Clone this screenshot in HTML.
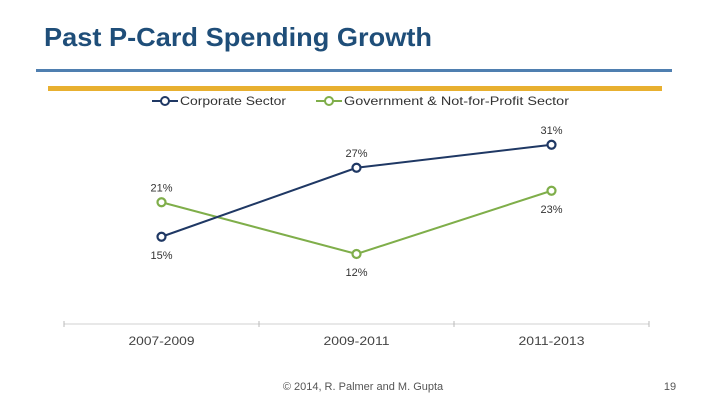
<!DOCTYPE html>
<html><head><meta charset="utf-8"><style>
html,body{margin:0;padding:0;background:#fff;}
svg{display:block;font-family:"Liberation Sans",sans-serif;}
</style></head><body>
<svg width="720" height="405" viewBox="0 0 720 405">
<text x="44" y="46" font-size="26" font-weight="bold" fill="#1f4e79" textLength="388" lengthAdjust="spacingAndGlyphs">Past P-Card Spending Growth</text>
<rect x="36" y="69" width="636" height="3" fill="#4f7fb0"/>
<rect x="48" y="86" width="614" height="5" fill="#e8b030"/>
<g id="legend">
  <g>
    <line x1="152" y1="101" x2="178" y2="101" stroke="#1f3864" stroke-width="2"/>
    <circle cx="165" cy="101" r="4" fill="#fff" stroke="#1f3864" stroke-width="2"/>
    <text x="180" y="105" font-size="12" fill="#333" textLength="106" lengthAdjust="spacingAndGlyphs">Corporate Sector</text>
  </g>
  <g>
    <line x1="316" y1="101" x2="342" y2="101" stroke="#7fae4a" stroke-width="2"/>
    <circle cx="329" cy="101" r="4" fill="#fff" stroke="#7fae4a" stroke-width="2"/>
    <text x="344" y="105" font-size="12" fill="#333" textLength="225" lengthAdjust="spacingAndGlyphs">Government &amp; Not-for-Profit Sector</text>
  </g>
</g>
<g id="chart"></g>
<text x="363" y="390" font-size="11" fill="#555" text-anchor="middle">© 2014, R. Palmer and M. Gupta</text>
<text x="670" y="390" font-size="11" fill="#555" text-anchor="middle">19</text>
</svg>
<script>
const categories = ["2007-2009","2009-2011","2011-2013"];
const corporate = [15, 27, 31];
const government = [21, 12, 23];
const seriesNames = ["Corporate Sector","Government & Not-for-Profit Sector"];

const NS="http://www.w3.org/2000/svg";
const g=document.getElementById('chart');
const left=64, right=649, base=323, pxPer=5.75;
const band=(right-left)/categories.length;
function xS(i){return left+band*(i+0.5);}
function yS(v){return base-v*pxPer;}
function mk(t,a){const e=document.createElementNS(NS,t);for(const k in a)e.setAttribute(k,a[k]);g.appendChild(e);return e;}

const ax=mk('line',{x1:left,y1:324,x2:right,y2:324,stroke:'#d0d0d0','stroke-width':1});


for(let i=0;i<=categories.length;i++){
  const t=mk('line',{x1:left+band*i,y1:321,x2:left+band*i,y2:327,stroke:'#bbb','stroke-width':1});
  
  
}
categories.forEach((c,i)=>{
  const t=mk('text',{x:xS(i),y:345,'font-size':12,fill:'#444','text-anchor':'middle',textLength:66,lengthAdjust:'spacingAndGlyphs'});
  t.textContent=c;
  
  
});
function series(vals,color,name,labelPos){
  const pts=vals.map((v,i)=>xS(i)+','+yS(v)).join(' ');
  const pl=mk('polyline',{points:pts,fill:'none',stroke:color,'stroke-width':2});
  
  
  vals.forEach((v,i)=>{
    const c=mk('circle',{cx:xS(i),cy:yS(v),r:4,fill:'#fff',stroke:color,'stroke-width':2.2});
    
    
    const above=labelPos[i];
    const t=mk('text',{x:xS(i),y:above?yS(v)-11:yS(v)+22,'font-size':11,fill:'#333','text-anchor':'middle'});
    t.textContent=v+'%';
    
    
  });
}
series(government,'#7fae4a','government',[true,false,false]);
series(corporate,'#1f3864','corporate',[false,true,true]);
</script>
</body></html>
